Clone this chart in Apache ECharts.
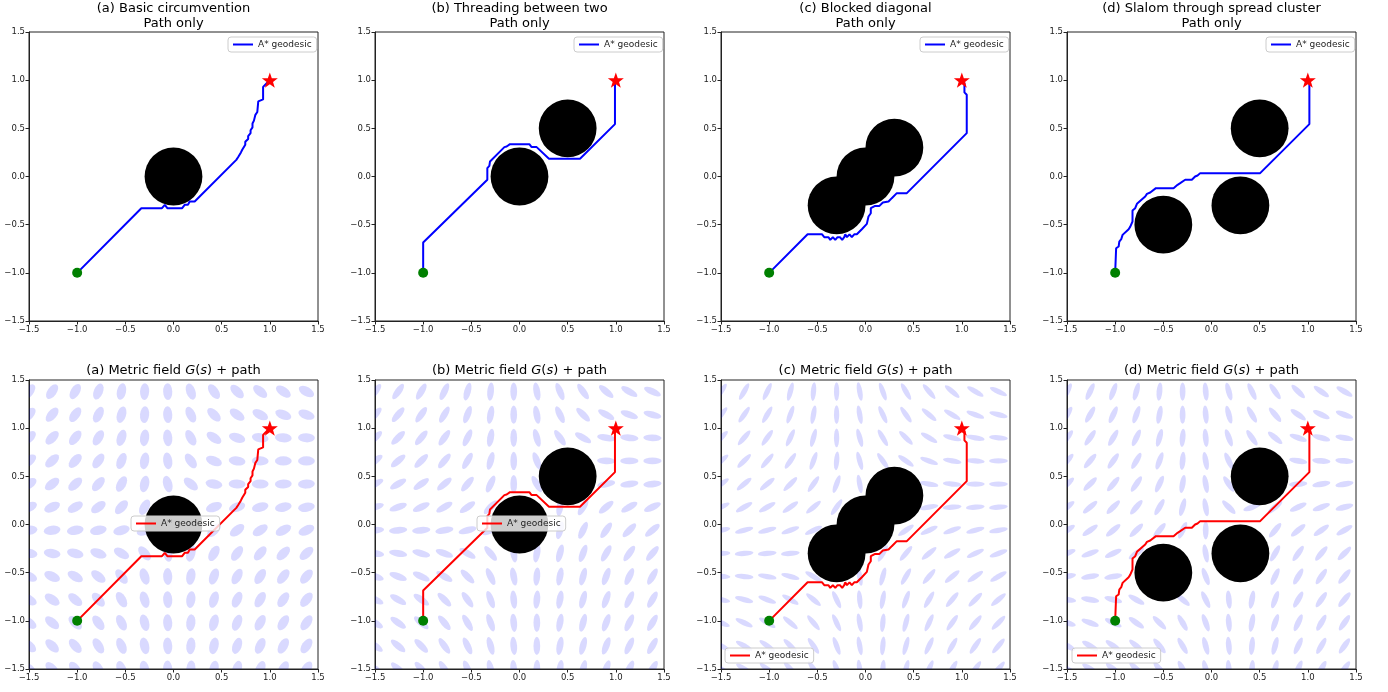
<!DOCTYPE html>
<html>
<head>
<meta charset="utf-8">
<title>A* geodesic paths</title>
<script src="https://cdn.jsdelivr.net/npm/echarts@6.0.0/dist/echarts.min.js"></script>
<style>
html,body{margin:0;padding:0;background:#fff;}
#main{width:1388px;height:692px;}
</style>
</head>
<body>
<div id="main"></div>
<script>
;(function(){
	// titles
	var topTitles = ['(a) Basic circumvention', '(b) Threading between two', '(c) Blocked diagonal', '(d) Slalom through spread cluster'];
	var panelTags = ['(a)', '(b)', '(c)', '(d)'];

	// start / goal
	var startPt = [-1, -1];
	var goalPt = [1, 1];

	// obstacles (centres), all radius 0.3
	var obstacleR = 0.3;
	var obstaclesA = [[0, 0]];
	var obstaclesB = [[0, 0], [0.5, 0.5]];
	var obstaclesC = [[-0.3, -0.3], [0, 0], [0.3, 0.3]];
	var obstaclesD = [[-0.5, -0.5], [0.3, -0.3], [0.5, 0.5]];

	// A* paths
	var pathA = [[-1,-1],[-0.334,-0.329],[-0.12,-0.329],[-0.09,-0.294],[-0.064,-0.329],[0.09,-0.329],[0.116,-0.294],[0.15,-0.294],[0.168,-0.26],[0.22,-0.26],[0.652,0.173],[0.67,0.2],[0.67,0.22],[0.7,0.25],[0.715,0.28],[0.715,0.3],[0.745,0.33],[0.745,0.36],[0.775,0.39],[0.775,0.42],[0.8,0.45],[0.8,0.48],[0.82,0.51],[0.82,0.55],[0.835,0.58],[0.85,0.6],[0.85,0.64],[0.87,0.67],[0.88,0.69],[0.88,0.78],[0.9,0.8],[0.93,0.8],[0.93,0.93],[0.96,0.96],[1,1]];
	var pathB = [[-1,-1],[-1,-0.686],[-0.334,-0.034],[-0.334,0.087],[-0.313,0.11],[-0.306,0.156],[-0.157,0.305],[-0.133,0.312],[-0.099,0.336],[0.102,0.336],[0.126,0.305],[0.178,0.305],[0.306,0.184],[0.628,0.184],[0.991,0.544],[0.991,0.99],[1,1]];
	var pathC = [[-1,-1],[-0.601,-0.599],[-0.453,-0.599],[-0.428,-0.63],[-0.384,-0.63],[-0.366,-0.658],[-0.339,-0.63],[-0.314,-0.658],[-0.29,-0.63],[-0.265,-0.63],[-0.242,-0.658],[-0.221,-0.63],[-0.21,-0.6],[-0.193,-0.63],[-0.166,-0.6],[-0.142,-0.63],[-0.117,-0.6],[-0.09,-0.6],[-0.038,-0.547],[0.014,-0.492],[0.031,-0.415],[0.055,-0.381],[0.055,-0.329],[0.1,-0.305],[0.145,-0.305],[0.18,-0.27],[0.239,-0.26],[0.273,-0.225],[0.325,-0.173],[0.429,-0.173],[1.051,0.45],[1.051,0.849],[1.027,0.873],[1.027,0.97],[1,1]];
	var pathD = [[-1,-1],[-0.99,-0.745],[-0.964,-0.727],[-0.957,-0.675],[-0.937,-0.651],[-0.923,-0.606],[-0.86,-0.547],[-0.843,-0.52],[-0.82,-0.467],[-0.82,-0.353],[-0.792,-0.329],[-0.774,-0.284],[-0.688,-0.208],[-0.67,-0.18],[-0.636,-0.166],[-0.577,-0.121],[-0.394,-0.121],[-0.352,-0.086],[-0.325,-0.069],[-0.273,-0.034],[-0.204,-0.034],[-0.17,0],[-0.145,0.01],[-0.117,0.035],[0.505,0.035],[1.016,0.544],[1.016,0.97],[1,1]];

	// metric field sample points
	var fieldX = [-1.5, -1.26, -1.02, -0.78, -0.54, -0.3, -0.06, 0.18, 0.42, 0.66, 0.9, 1.14, 1.38];
	var fieldY = [1.38, 1.14, 0.9, 0.66, 0.42, 0.18, -0.06, -0.3, -0.54, -0.78, -1.02, -1.26, -1.5];

	// major-axis angle (deg) of each metric ellipse, rows top->bottom, null = under obstacle
	var metricA = [
		[52, 55, 60, 68, 78, 87, 92, 110, 125, 135, 140, 145, 150],
		[48, 50, 55, 64, 74, 85, 93, 115, 135, 145, 152, 158, 160],
		[44, 46, 52, 60, 72, 83, 95, 118, 145, 162, 170, 175, 178],
		[40, 42, 48, 55, 68, 80, 98, 125, 158, 172, 178, 0, 0],
		[34, 38, 42, 50, 62, 78, 105, 140, 170, 178, 0, 2, 3],
		[24, 26, 30, 36, 48, 62, null, null, 20, 18, 15, 12, 10],
		[8, 8, 10, 12, 16, 25, null, null, 45, 38, 32, 28, 25],
		[172, 170, 165, 160, 150, 130, 100, 75, 60, 55, 50, 45, 42],
		[158, 155, 150, 142, 128, 108, 92, 80, 70, 62, 58, 52, 50],
		[150, 146, 140, 132, 120, 105, 93, 82, 73, 66, 60, 56, 52],
		[145, 140, 135, 126, 116, 104, 93, 84, 75, 68, 62, 58, 55],
		[140, 136, 130, 122, 113, 103, 93, 85, 77, 70, 65, 60, 56],
		[138, 133, 127, 120, 111, 102, 93, 85, 78, 72, 66, 62, 58]
	];
	var metricB = [
		[52, 55, 60, 65, 75, 85, 90, 100, 112, 125, 140, 150, 155],
		[48, 50, 55, 60, 70, 80, 90, 100, 115, 135, 150, 160, 165],
		[43, 45, 50, 55, 65, 80, 90, 105, 125, 150, 170, 175, 178],
		[38, 40, 45, 50, 60, 75, 90, 110, null, null, 178, 0, 0],
		[28, 30, 35, 40, 50, 65, 90, 120, null, null, 12, 8, 5],
		[18, 20, 25, 30, 35, 45, null, null, 80, 60, 40, 30, 25],
		[5, 5, 5, 10, 15, 25, null, null, 75, 65, 55, 45, 40],
		[172, 170, 165, 160, 150, 130, 100, 80, 75, 70, 60, 55, 50],
		[162, 160, 155, 150, 135, 115, 100, 85, 80, 75, 70, 65, 60],
		[155, 150, 145, 135, 125, 110, 95, 85, 80, 75, 70, 65, 60],
		[148, 145, 140, 130, 120, 110, 95, 90, 80, 75, 70, 65, 60],
		[145, 140, 135, 125, 115, 105, 95, 90, 80, 75, 70, 65, 60],
		[142, 138, 132, 122, 112, 103, 95, 88, 80, 75, 70, 65, 60]
	];
	var metricC = [
		[55, 60, 65, 75, 85, 90, 100, 110, 120, 130, 140, 150, 155],
		[50, 55, 60, 70, 80, 90, 100, 115, 125, 140, 150, 160, 165],
		[45, 50, 55, 65, 75, 90, 105, 120, 135, 150, 165, 170, 175],
		[40, 45, 50, 55, 70, 85, 105, 125, 145, 160, 170, 175, 180],
		[35, 40, 40, 45, 55, 70, 100, null, null, 170, 175, 0, 0],
		[25, 30, 30, 35, 40, 55, null, null, null, 10, 5, 5, 5],
		[12, 15, 15, 20, 25, null, null, null, 35, 25, 20, 15, 10],
		[3, 5, 5, 5, null, null, null, 60, 50, 40, 30, 25, 20],
		[178, 175, 170, 165, 150, null, 100, 75, 60, 50, 40, 35, 30],
		[168, 165, 160, 150, 140, 115, 95, 80, 70, 60, 50, 45, 40],
		[158, 155, 150, 140, 130, 115, 100, 85, 75, 65, 55, 50, 45],
		[152, 150, 145, 135, 125, 110, 100, 85, 75, 65, 60, 55, 50],
		[150, 147, 142, 132, 122, 110, 98, 85, 75, 66, 60, 55, 50]
	];
	var metricD = [
		[62, 65, 70, 75, 85, 90, 95, 105, 115, 125, 135, 145, 150],
		[58, 60, 65, 70, 80, 90, 95, 105, 120, 130, 145, 155, 160],
		[52, 55, 60, 65, 75, 85, 95, 110, 125, 140, 160, 165, 170],
		[48, 50, 55, 60, 70, 85, 100, 115, null, null, 170, 175, 175],
		[42, 45, 50, 55, 65, 80, 100, 125, null, null, 5, 10, 10],
		[38, 40, 45, 50, 60, 75, 100, 135, 20, 40, 25, 20, 15],
		[32, 35, 40, 45, 50, 65, 90, null, null, 50, 40, 35, 30],
		[22, 20, 25, 35, null, null, 100, null, null, 60, 55, 50, 45],
		[12, 10, 10, null, null, null, 110, null, null, 65, 60, 55, 50],
		[172, 170, 165, 150, null, 140, 115, 95, 80, 70, 60, 55, 50],
		[162, 160, 155, 145, 135, 120, 110, 95, 80, 70, 65, 60, 55],
		[152, 150, 145, 140, 130, 120, 105, 95, 85, 75, 65, 60, 55],
		[150, 147, 142, 137, 128, 118, 105, 95, 85, 75, 67, 60, 55]
	];
	// ellipse [major, minor] lengths in data units
	var ellipseA = [0.175, 0.095];
	var ellipseB = [0.19, 0.07];
	var ellipseC = [0.195, 0.055];
	var ellipseD = [0.19, 0.06];

	var obstacleSets = [obstaclesA, obstaclesB, obstaclesC, obstaclesD];
	var pathSets = [pathA, pathB, pathC, pathD];
	var metricSets = [metricA, metricB, metricC, metricD];
	var ellipseSets = [ellipseA, ellipseB, ellipseC, ellipseD];

	// layout
	var panelLeft = [29, 375, 721, 1067];
	var rowTop = [32, 380];
	var boxSize = 289;
	var legendPos = [
		[[228, 37], [131, 516]],
		[[574, 37], [477, 516]],
		[[920, 37], [725, 648]],
		[[1266, 37], [1072, 648]]
	];
	var font = 'DejaVu Sans';
	var starIcon = 'path://M0,-10L2.35,-3.24L9.51,-3.09L3.8,1.24L5.88,8.09L0,4L-5.88,8.09L-3.8,1.24L-9.51,-3.09L-2.35,-3.24Z';

	function fmt(v){
		return v.toFixed(1).replace('-', '\u2212');
	}

	function makeAxis(k){
		return {
			type: 'value', gridIndex: k, min: -1.5, max: 1.5, interval: 0.5,
			axisLine: {show: true, onZero: false, lineStyle: {color: '#222', width: 1}},
			axisTick: {show: true, length: 3.5, lineStyle: {color: '#222', width: 1}},
			splitLine: {show: false},
			axisLabel: {fontSize: 8.5, color: '#222', margin: 4, fontFamily: font, formatter: fmt, showMinLabel: true, showMaxLabel: true}
		};
	}

	function fieldData(metric){
		var out = [];
		for (var i = 0; i < fieldY.length; i++) {
			for (var j = 0; j < fieldX.length; j++) {
				if (metric[i][j] !== null) {
					out.push([fieldX[j], fieldY[i], metric[i][j]]);
				}
			}
		}
		return out;
	}

	var grids = [], xAxes = [], yAxes = [], series = [], titles = [], legends = [];

	for (var p = 0; p < 4; p++) {
		for (var r = 0; r < 2; r++) {
			var k = grids.length;  // index of the grid pushed just below
			var lineColor = r == 0 ? '#0000ff' : '#ff0000';
			grids.push({
				left: panelLeft[p], top: rowTop[r], width: boxSize, height: boxSize,
				show: true, borderColor: '#222', borderWidth: 1, containLabel: false, outerBoundsMode: 'none'
			});
			xAxes.push(makeAxis(k));
			yAxes.push(makeAxis(k));

			if (r == 0) {
				titles.push({
					text: topTitles[p] + '\nPath only', left: panelLeft[p] + boxSize / 2, top: 1, padding: 0, textAlign: 'center',
					textStyle: {fontSize: 13, fontWeight: 'normal', color: '#000', lineHeight: 15, fontFamily: font}
				});
			} else {
				titles.push({
					text: panelTags[p] + ' Metric field {i|G}({i|s}) + path', left: panelLeft[p] + boxSize / 2, top: 364, padding: 0, textAlign: 'center',
					textStyle: {fontSize: 13, fontWeight: 'normal', color: '#000', fontFamily: font,
						rich: {i: {fontSize: 13, fontStyle: 'italic', color: '#000', fontFamily: font}}}
				});
				// metric ellipses
				(function(size){
					series.push({
						type: 'custom', name: 'metric', xAxisIndex: k, yAxisIndex: k, z: 1, clip: true, silent: true,
						data: fieldData(metricSets[p]),
						renderItem: function(params, api){
							var c = api.coord([api.value(0), api.value(1)]);
							var len = api.size([size[0], size[1]]);
							return {
								type: 'circle', x: c[0], y: c[1],
								rotation: api.value(2) * Math.PI / 180,
								scaleX: 1, scaleY: len[1] / len[0],
								shape: {cx: 0, cy: 0, r: len[0] / 2},
								style: {fill: 'rgba(0,0,255,0.15)'}
							};
						}
					});
				})(ellipseSets[p]);
			}

			// obstacles
			series.push({
				type: 'custom', name: 'obstacle', xAxisIndex: k, yAxisIndex: k, z: 2, silent: true,
				data: obstacleSets[p],
				renderItem: function(params, api){
					var c = api.coord([api.value(0), api.value(1)]);
					var rad = api.size([obstacleR, 0])[0];
					return {type: 'circle', shape: {cx: c[0], cy: c[1], r: rad}, style: {fill: '#000'}};
				}
			});
			// path
			series.push({
				type: 'line', name: 'A* geodesic', xAxisIndex: k, yAxisIndex: k, z: 3, silent: true,
				data: pathSets[p], symbol: 'none', showSymbol: false, animation: false,
				lineStyle: {color: lineColor, width: 2}, itemStyle: {color: lineColor}
			});
			// start
			series.push({
				type: 'scatter', name: 'start', xAxisIndex: k, yAxisIndex: k, z: 4, silent: true,
				data: [startPt], symbol: 'circle', symbolSize: 10, itemStyle: {color: '#008000', opacity: 1}
			});
			// goal
			series.push({
				type: 'scatter', name: 'goal', xAxisIndex: k, yAxisIndex: k, z: 5, silent: true,
				data: [goalPt], symbol: starIcon, symbolKeepAspect: true, symbolSize: 16, itemStyle: {color: '#ff0000', opacity: 1}
			});

			legends.push({
				left: legendPos[p][r][0], top: legendPos[p][r][1], z: 10, selectedMode: false,
				orient: 'vertical', icon: 'rect', itemWidth: 20, itemHeight: 2,
				padding: [3, 5, 3, 5], backgroundColor: 'rgba(255,255,255,0.8)',
				borderColor: '#ccc', borderWidth: 1, borderRadius: 3,
				textStyle: {fontSize: 9, color: '#222', fontFamily: font},
				data: [{name: 'A* geodesic', icon: 'rect', itemStyle: {color: lineColor}, lineStyle: {color: lineColor}}]
			});
		}
	}

	var myChart = echarts.init(document.getElementById('main'));
	myChart.setOption({
		animation: false,
		backgroundColor: '#fff',
		textStyle: {fontFamily: font},
		title: titles,
		legend: legends,
		grid: grids,
		xAxis: xAxes,
		yAxis: yAxes,
		series: series
	});
})();
</script>
</body>
</html>
